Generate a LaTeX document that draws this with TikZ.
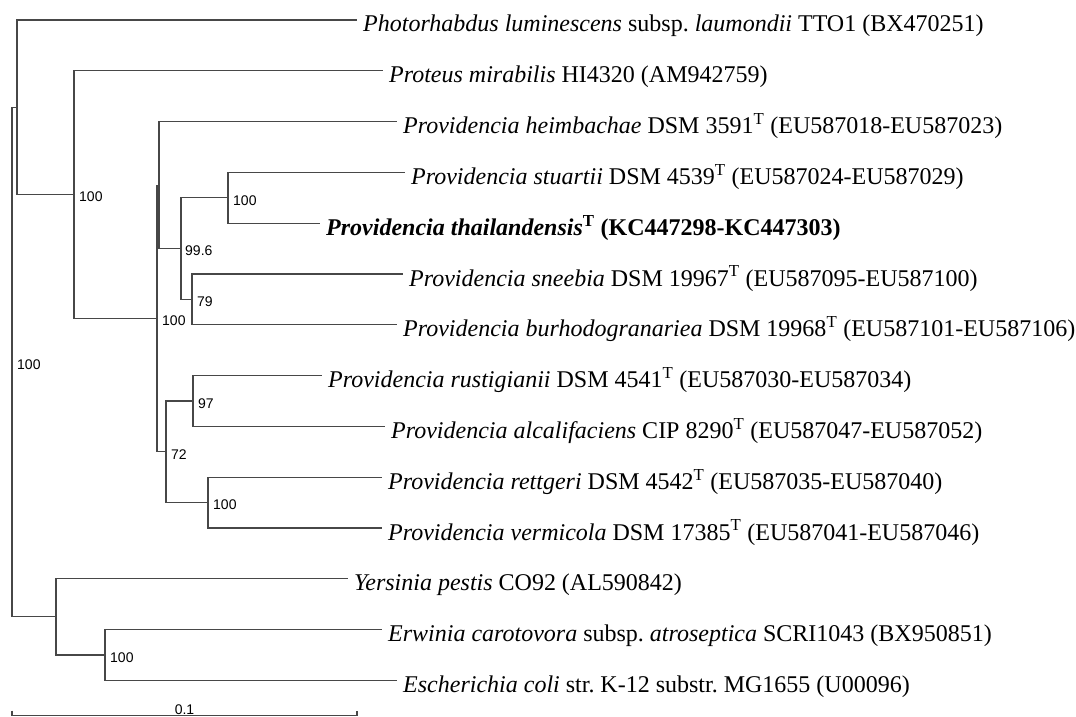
\documentclass[tikz,border=0pt]{standalone}
\usepackage{fontspec}
\setmainfont{Liberation Serif}
\newfontfamily\bootfont{Liberation Sans}
\usetikzlibrary{positioning,calc}

\tikzset{
  branch/.style={draw=black!72, line width=1.1pt},
  taxon/.style={anchor=base west, inner sep=0pt, font=\fontsize{24}{28}\selectfont},
  boot/.style={anchor=west, inner sep=0pt, font=\bootfont\fontsize{14}{16}\selectfont},
}

\begin{document}
\begin{tikzpicture}[x=1pt, y=-1pt]
\useasboundingbox (0,0) rectangle (1076,717);

% internal nodes of the tree
\coordinate (root) at (12, 362.1);
\coordinate (nA) at (17, 107.3);
\coordinate (nB) at (74, 194.6);
\coordinate (nC) at (157, 318.45);
\coordinate (nD) at (159, 185.1);
\coordinate (nF) at (181, 248.6);
\coordinate (nG) at (228, 197.8);
\coordinate (nH) at (192, 299.4);
\coordinate (nE) at (166, 451.8);
\coordinate (nI) at (193, 401);
\coordinate (nJ) at (208, 502.6);
\coordinate (nK) at (56, 616.9);
\coordinate (nL) at (105, 655);

% tips of the branches
\coordinate (e1) at (357, 20);
\coordinate (e2) at (383, 70.8);
\coordinate (e3) at (397, 121.6);
\coordinate (e4) at (405, 172.4);
\coordinate (e5) at (320, 223.2);
\coordinate (e6) at (403, 274);
\coordinate (e7) at (397, 324.8);
\coordinate (e8) at (322, 375.6);
\coordinate (e9) at (385, 426.4);
\coordinate (e10) at (382, 477.2);
\coordinate (e11) at (382, 528);
\coordinate (e12) at (348, 578.8);
\coordinate (e13) at (382, 629.6);
\coordinate (e14) at (397, 680.4);

% branches
\draw[branch] (root) |- (nA);
\draw[branch] (root) |- (nK);
\draw[branch] (nA) |- (e1);
\draw[branch] (nA) |- (nB);
\draw[branch] (nB) |- (e2);
\draw[branch] (nB) |- (nC);
\draw[branch] (nC) |- (nD);
\draw[branch] (nC) |- (nE);
\draw[branch] (nD) |- (e3);
\draw[branch] (nD) |- (nF);
\draw[branch] (nF) |- (nG);
\draw[branch] (nF) |- (nH);
\draw[branch] (nG) |- (e4);
\draw[branch] (nG) |- (e5);
\draw[branch] (nH) |- (e6);
\draw[branch] (nH) |- (e7);
\draw[branch] (nE) |- (nI);
\draw[branch] (nE) |- (nJ);
\draw[branch] (nI) |- (e8);
\draw[branch] (nI) |- (e9);
\draw[branch] (nJ) |- (e10);
\draw[branch] (nJ) |- (e11);
\draw[branch] (nK) |- (e12);
\draw[branch] (nK) |- (nL);
\draw[branch] (nL) |- (e13);
\draw[branch] (nL) |- (e14);

% bootstrap values
\node[boot] (bRoot) at ([xshift=5pt, yshift=-2.5pt]root) {100};
\node[boot] (bB) at ([xshift=5pt, yshift=-2.5pt]nB) {100};
\node[boot] (bC) at ([xshift=5pt, yshift=-2.5pt]nC) {100};
\node[boot] (bF) at ([xshift=4pt, yshift=-2.5pt]nF) {99.6};
\node[boot] (bG) at ([xshift=5pt, yshift=-2.5pt]nG) {100};
\node[boot] (bH) at ([xshift=5pt, yshift=-2.5pt]nH) {79};
\node[boot] (bE) at ([xshift=5pt, yshift=-2.5pt]nE) {72};
\node[boot] (bI) at ([xshift=5pt, yshift=-2.5pt]nI) {97};
\node[boot] (bJ) at ([xshift=5pt, yshift=-2.5pt]nJ) {100};
\node[boot] (bL) at ([xshift=5pt, yshift=-2.5pt]nL) {100};

% taxa
\node[taxon] (t1) at ([xshift=6pt, yshift=-12pt]e1) {\textit{Photorhabdus luminescens} subsp.\ \textit{laumondii} TTO1 (BX470251)};
\node[taxon] (t2) at ([xshift=6pt, yshift=-12pt]e2) {\textit{Proteus mirabilis} HI4320 (AM942759)};
\node[taxon] (t3) at ([xshift=6pt, yshift=-12pt]e3) {\textit{Providencia heimbachae} DSM 3591\textsuperscript{T} (EU587018-EU587023)};
\node[taxon] (t4) at ([xshift=6pt, yshift=-12pt]e4) {\textit{Providencia stuartii} DSM 4539\textsuperscript{T} (EU587024-EU587029)};
\node[taxon] (t5) at ([xshift=6pt, yshift=-12pt]e5) {\textbf{\textit{Providencia thailandensis}\textsuperscript{T} (KC447298-KC447303)}};
\node[taxon] (t6) at ([xshift=6pt, yshift=-12pt]e6) {\textit{Providencia sneebia} DSM 19967\textsuperscript{T} (EU587095-EU587100)};
\node[taxon] (t7) at ([xshift=6pt, yshift=-12pt]e7) {\textit{Providencia burhodogranariea} DSM 19968\textsuperscript{T} (EU587101-EU587106)};
\node[taxon] (t8) at ([xshift=6pt, yshift=-12pt]e8) {\textit{Providencia rustigianii} DSM 4541\textsuperscript{T} (EU587030-EU587034)};
\node[taxon] (t9) at ([xshift=6pt, yshift=-12pt]e9) {\textit{Providencia alcalifaciens} CIP 8290\textsuperscript{T} (EU587047-EU587052)};
\node[taxon] (t10) at ([xshift=6pt, yshift=-12pt]e10) {\textit{Providencia rettgeri} DSM 4542\textsuperscript{T} (EU587035-EU587040)};
\node[taxon] (t11) at ([xshift=6pt, yshift=-12pt]e11) {\textit{Providencia vermicola} DSM 17385\textsuperscript{T} (EU587041-EU587046)};
\node[taxon] (t12) at ([xshift=6pt, yshift=-12pt]e12) {\textit{Yersinia pestis} CO92 (AL590842)};
\node[taxon] (t13) at ([xshift=6pt, yshift=-12pt]e13) {\textit{Erwinia carotovora} subsp.\ \textit{atroseptica} SCRI1043 (BX950851)};
\node[taxon] (t14) at ([xshift=6pt, yshift=-12pt]e14) {\textit{Escherichia coli} str.\ K-12 substr.\ MG1655 (U00096)};

% scale bar
\coordinate (sL) at (12, 715.5);
\coordinate (sR) at (357, 715.5);
\draw[branch] ([yshift=5pt]sL) -- (sL) -- (sR) -- ([yshift=5pt]sR);
\node[boot, anchor=south] (sLab) at ([yshift=0.5pt]$(sL)!0.5!(sR)$) {0.1};
\end{tikzpicture}
\end{document}
